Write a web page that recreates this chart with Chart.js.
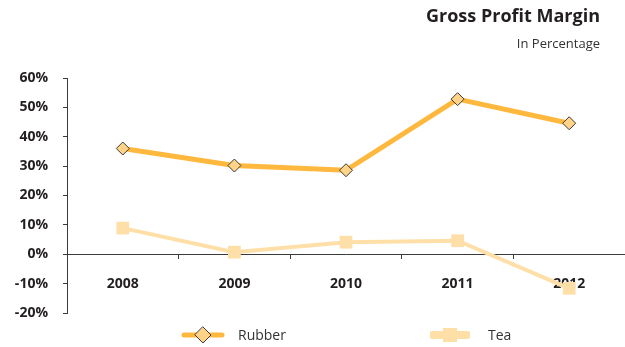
<!DOCTYPE html>
<html>
<head>
<meta charset="utf-8">
<script src="https://cdn.jsdelivr.net/npm/chart.js@4.4.1/dist/chart.umd.min.js"></script>
<style>
  body { margin: 0; background: #fff; }
  #wrap { position: relative; width: 625px; height: 347px; font-family: "Open Sans", sans-serif; color: #231f20; }
  #chart { position: absolute; left: 0; top: 0; }
  .title { position: absolute; right: 25px; top: 3px; font-weight: bold; font-size: 18px; }
  .subtitle { position: absolute; right: 25px; top: 34px; font-size: 13px; color: #333; }
  .legend-item { position: absolute; top: 324px; font-size: 14px; color: #333; height: 22px; line-height: 22px; }
  .legend-item canvas { position: absolute; left: 0; top: 0; }
  .legend-item span { position: absolute; white-space: nowrap; }
</style>
</head>
<body>
<div id="wrap">
  <canvas id="chart" width="625" height="347"></canvas>
  <div class="title">Gross Profit Margin</div>
  <div class="subtitle">In Percentage</div>
  <div class="legend-item" style="left:181px"><canvas id="lg-rubber" width="44" height="22"></canvas><span style="left:57px">Rubber</span></div>
  <div class="legend-item" style="left:430px"><canvas id="lg-tea" width="40" height="22"></canvas><span style="left:58px">Tea</span></div>
</div>
<script>
// Gross profit margin by year, in percent
const years = ['2008', '2009', '2010', '2011', '2012'];
const rubberMargin = [36.0, 30.2, 28.6, 52.8, 44.6];
const teaMargin = [8.9, 0.7, 4.1, 4.6, -11.6];
const yTicks = [-20, -10, 0, 10, 20, 30, 40, 50, 60];

const rubberLine = '#ffb83e';
const rubberPoint = '#ffd388';
const teaColor = '#ffdfa8';
const axisColor = '#3a3a3a';
const labelFont = { family: 'Open Sans', size: 14, weight: 'bold' };

// small legend swatches: line with the series marker in the middle
function drawSwatch(id, lineColor, lineWidth, marker) {
  const c = document.getElementById(id).getContext('2d');
  const w = c.canvas.width, cy = 11;
  c.strokeStyle = lineColor;
  c.lineWidth = lineWidth;
  c.lineCap = 'round';
  c.beginPath();
  c.moveTo(3, cy);
  c.lineTo(w - 3, cy);
  c.stroke();
  marker(c, w / 2, cy);
}
drawSwatch('lg-rubber', rubberLine, 5, (c, x, y) => {
  c.beginPath();
  c.moveTo(x, y - 8); c.lineTo(x + 8, y); c.lineTo(x, y + 8); c.lineTo(x - 8, y);
  c.closePath();
  c.fillStyle = rubberPoint; c.fill();
  c.strokeStyle = axisColor; c.lineWidth = 1; c.stroke();
});
drawSwatch('lg-tea', teaColor, 8, (c, x, y) => {
  c.fillStyle = teaColor;
  c.fillRect(x - 7, y - 7, 14, 14);
});

const ctx = document.getElementById('chart').getContext('2d');
new Chart(ctx, {
  type: 'line',
  data: {
    labels: years,
    datasets: [{
      label: 'Tea',
      data: teaMargin,
      borderColor: teaColor,
      borderWidth: 4,
      pointStyle: 'rect',
      pointRadius: 9,
      pointBackgroundColor: teaColor,
      pointBorderWidth: 0,
      tension: 0
    }, {
      label: 'Rubber',
      data: rubberMargin,
      borderColor: rubberLine,
      borderWidth: 5,
      pointStyle: 'rectRot',
      pointRadius: 6.5,
      pointBackgroundColor: rubberPoint,
      pointBorderColor: axisColor,
      pointBorderWidth: 1,
      tension: 0
    }]
  },
  options: {
    responsive: false,
    animation: false,
    layout: { autoPadding: false, padding: { top: 78, bottom: 34, left: 0, right: 0 } },
    plugins: {
      legend: { display: false },
      tooltip: { enabled: false }
    },
    scales: {
      x: {
        position: { y: 0 },
        offset: true,
        grid: {
          offset: true,
          drawOnChartArea: false,
          tickLength: 4,
          color: axisColor
        },
        border: { color: axisColor, width: 1 },
        ticks: {
          padding: 17,
          color: '#231f20',
          font: labelFont
        }
      },
      y: {
        min: -20,
        max: 60,
        afterBuildTicks: axis => { axis.ticks = yTicks.map(v => ({ value: v })); },
        afterFit: axis => { axis.width = 67; },
        grid: {
          drawOnChartArea: false,
          tickLength: 4,
          color: axisColor
        },
        border: { color: axisColor, width: 1 },
        ticks: {
          padding: 15,
          color: '#231f20',
          font: labelFont,
          callback: v => v + '%'
        }
      }
    }
  }
});
</script>
</body>
</html>
